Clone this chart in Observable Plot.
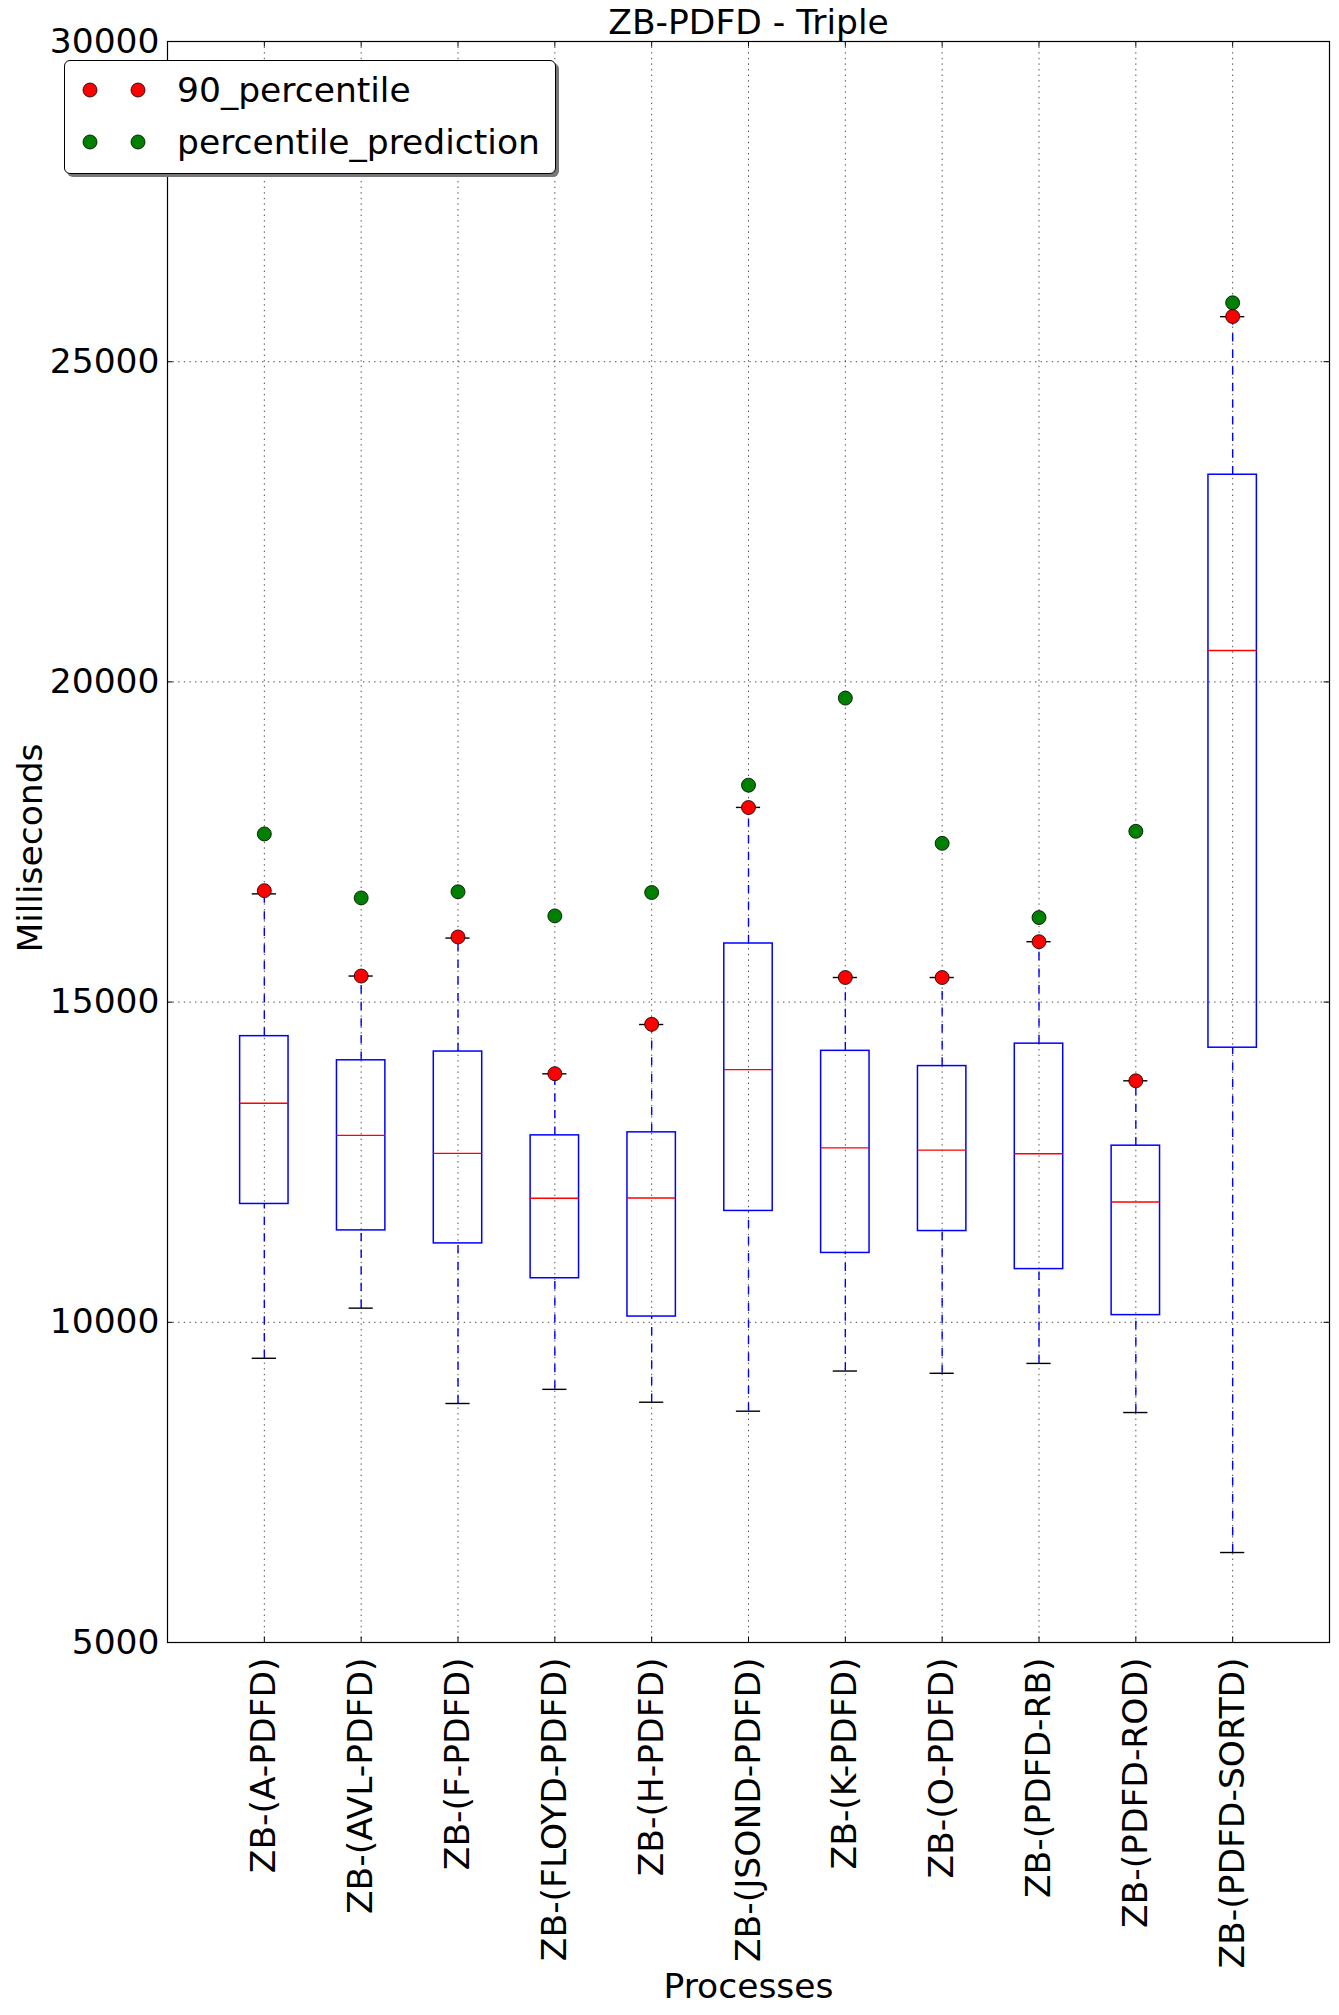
<!DOCTYPE html>
<html>
<head>
<meta charset="utf-8">
<script src="https://cdn.jsdelivr.net/npm/d3@7"></script>
<script src="https://cdn.jsdelivr.net/npm/@observablehq/plot@0.6"></script>
<style>
  html, body { margin: 0; padding: 0; background: #fff; }
  #wrap { position: relative; width: 1339px; height: 2015px; font-family: "DejaVu Sans", sans-serif; }
  #legend { position: absolute; left: 64px; top: 60px; width: 492px; height: 114px; background: #fff;
    border: 1.2px solid #000; border-radius: 6px; box-shadow: 3px 3px 0 #777; box-sizing: border-box; }
</style>
</head>
<body>
<div id="wrap"></div>
<script>
const categories = ["ZB-(A-PDFD)", "ZB-(AVL-PDFD)", "ZB-(F-PDFD)", "ZB-(FLOYD-PDFD)", "ZB-(H-PDFD)", "ZB-(JSOND-PDFD)", "ZB-(K-PDFD)", "ZB-(O-PDFD)", "ZB-(PDFD-RB)", "ZB-(PDFD-ROD)", "ZB-(PDFD-SORTD)"];
const whiskerLow  = [9438, 10221, 8732, 8953, 8752, 8612, 9239, 9204, 9358, 8591, 6405];
const q1          = [11848, 11435, 11232, 10688, 10090, 11739, 11083, 11425, 10831, 10112, 14288];
const median      = [13421, 12919, 12638, 11938, 11940, 13946, 12724, 12689, 12633, 11879, 20490];
const q3          = [14468, 14091, 14228, 12919, 12966, 15915, 14239, 14001, 14351, 12758, 23235];
const whiskerHigh = [16690, 15407, 16000, 13880, 14650, 18040, 15384, 15384, 15943, 13771, 25703];
const p90         = [16740, 15407, 16017, 13882, 14653, 18038, 15384, 15384, 15943, 13771, 25706];
const prediction  = [17626, 16627, 16722, 16346, 16711, 18387, 19747, 17479, 16320, 17667, 25920];
const yTicks = [5000, 10000, 15000, 20000, 25000, 30000];

const data = categories.map((c, i) => ({
  name: c, pos: i + 1,
  lo: whiskerLow[i], q1: q1[i], med: median[i], q3: q3[i], hi: whiskerHigh[i],
  p90: p90[i], pred: prediction[i]
}));
const positions = data.map(d => d.pos);

const W = 1339, H = 2015, ML = 167, MR = 10, MT = 41, MB = 373;
const plotW = W - ML - MR, plotH = H - MT - MB;
const tickLen = 5.5;
const font = "DejaVu Sans";
const fs = 34.5;
const grid = {stroke: "#000", strokeOpacity: 1, strokeWidth: 0.7, strokeDasharray: "1.4,4.2"};

const chart = Plot.plot({
  width: W, height: H,
  marginLeft: ML, marginRight: MR, marginTop: MT, marginBottom: MB,
  style: {fontFamily: font, background: "#fff", color: "#000"},
  x: {type: "linear", domain: [0, 12]},
  y: {domain: [5000, 30000]},
  marks: [
    Plot.gridX(positions, grid),
    Plot.gridY(yTicks, grid),
    // whiskers
    Plot.ruleX(data, {x: "pos", y1: "q3", y2: "hi", stroke: "#0000ff", strokeWidth: 1.4, strokeDasharray: "8.3,8.3"}),
    Plot.ruleX(data, {x: "pos", y1: "lo", y2: "q1", stroke: "#0000ff", strokeWidth: 1.4, strokeDasharray: "8.3,8.3"}),
    // caps
    Plot.ruleY(data, {y: "hi", x1: d => d.pos - 0.125, x2: d => d.pos + 0.125, stroke: "#000", strokeWidth: 1.4}),
    Plot.ruleY(data, {y: "lo", x1: d => d.pos - 0.125, x2: d => d.pos + 0.125, stroke: "#000", strokeWidth: 1.4}),
    // boxes
    Plot.rect(data, {x1: d => d.pos - 0.25, x2: d => d.pos + 0.25, y1: "q1", y2: "q3", fill: "none", stroke: "#0000ff", strokeWidth: 1.5}),
    // medians
    Plot.ruleY(data, {y: "med", x1: d => d.pos - 0.25, x2: d => d.pos + 0.25, stroke: "#ff0000", strokeWidth: 1.4}),
    // points
    Plot.dot(data, {x: "pos", y: "p90", r: 7, fill: "#ff0000", stroke: "#000", strokeWidth: 0.8}),
    Plot.dot(data, {x: "pos", y: "pred", r: 7, fill: "#008000", stroke: "#000", strokeWidth: 0.8}),
    // inside ticks
    Plot.ruleY(yTicks, {stroke: "#000", insetRight: plotW - tickLen}),
    Plot.ruleY(yTicks, {stroke: "#000", insetLeft: plotW - tickLen}),
    Plot.ruleX(positions, {stroke: "#000", insetTop: plotH - tickLen}),
    Plot.ruleX(positions, {stroke: "#000", insetBottom: plotH - tickLen}),
    Plot.frame({stroke: "#000", strokeWidth: 1.2}),
    // axes
    Plot.axisY(yTicks, {tickSize: 0, tickPadding: 8, fontSize: fs, label: null, tickFormat: d => String(d)}),
    Plot.axisX(positions, {tickSize: 0, tickPadding: 15, tickRotate: -90, fontSize: fs, label: null,
      tickFormat: p => categories[p - 1]}),
    // titles
    Plot.text(["ZB-PDFD - Triple"], {frameAnchor: "top", lineAnchor: "top", textAnchor: "middle", dy: -32, fontSize: fs, fill: "#000"}),
    Plot.text(["Processes"], {frameAnchor: "bottom", lineAnchor: "bottom", textAnchor: "middle", dy: 355, fontSize: fs, fill: "#000"}),
    Plot.text(["Milliseconds"], {frameAnchor: "left", textAnchor: "middle", dx: -137, dy: 6, rotate: -90, fontSize: fs, fill: "#000"})
  ]
});
document.getElementById("wrap").appendChild(chart);

// legend overlay
const legendItems = [
  {label: "90_percentile", color: "#ff0000"},
  {label: "percentile_prediction", color: "#008000"}
];
const leg = d3.select("#wrap").append("div").attr("id", "legend");
const lsvg = leg.append("svg").attr("width", 490).attr("height", 112).style("display", "block");
legendItems.forEach((it, i) => {
  const cy = 29 + i * 52;
  [25, 73].forEach(cx => lsvg.append("circle").attr("cx", cx).attr("cy", cy).attr("r", 7)
    .attr("fill", it.color).attr("stroke", "#000").attr("stroke-width", 0.8));
  lsvg.append("text").attr("x", 112).attr("y", cy).attr("dy", "0.35em")
    .attr("font-family", font).attr("font-size", fs).text(it.label);
});
</script>
</body>
</html>
